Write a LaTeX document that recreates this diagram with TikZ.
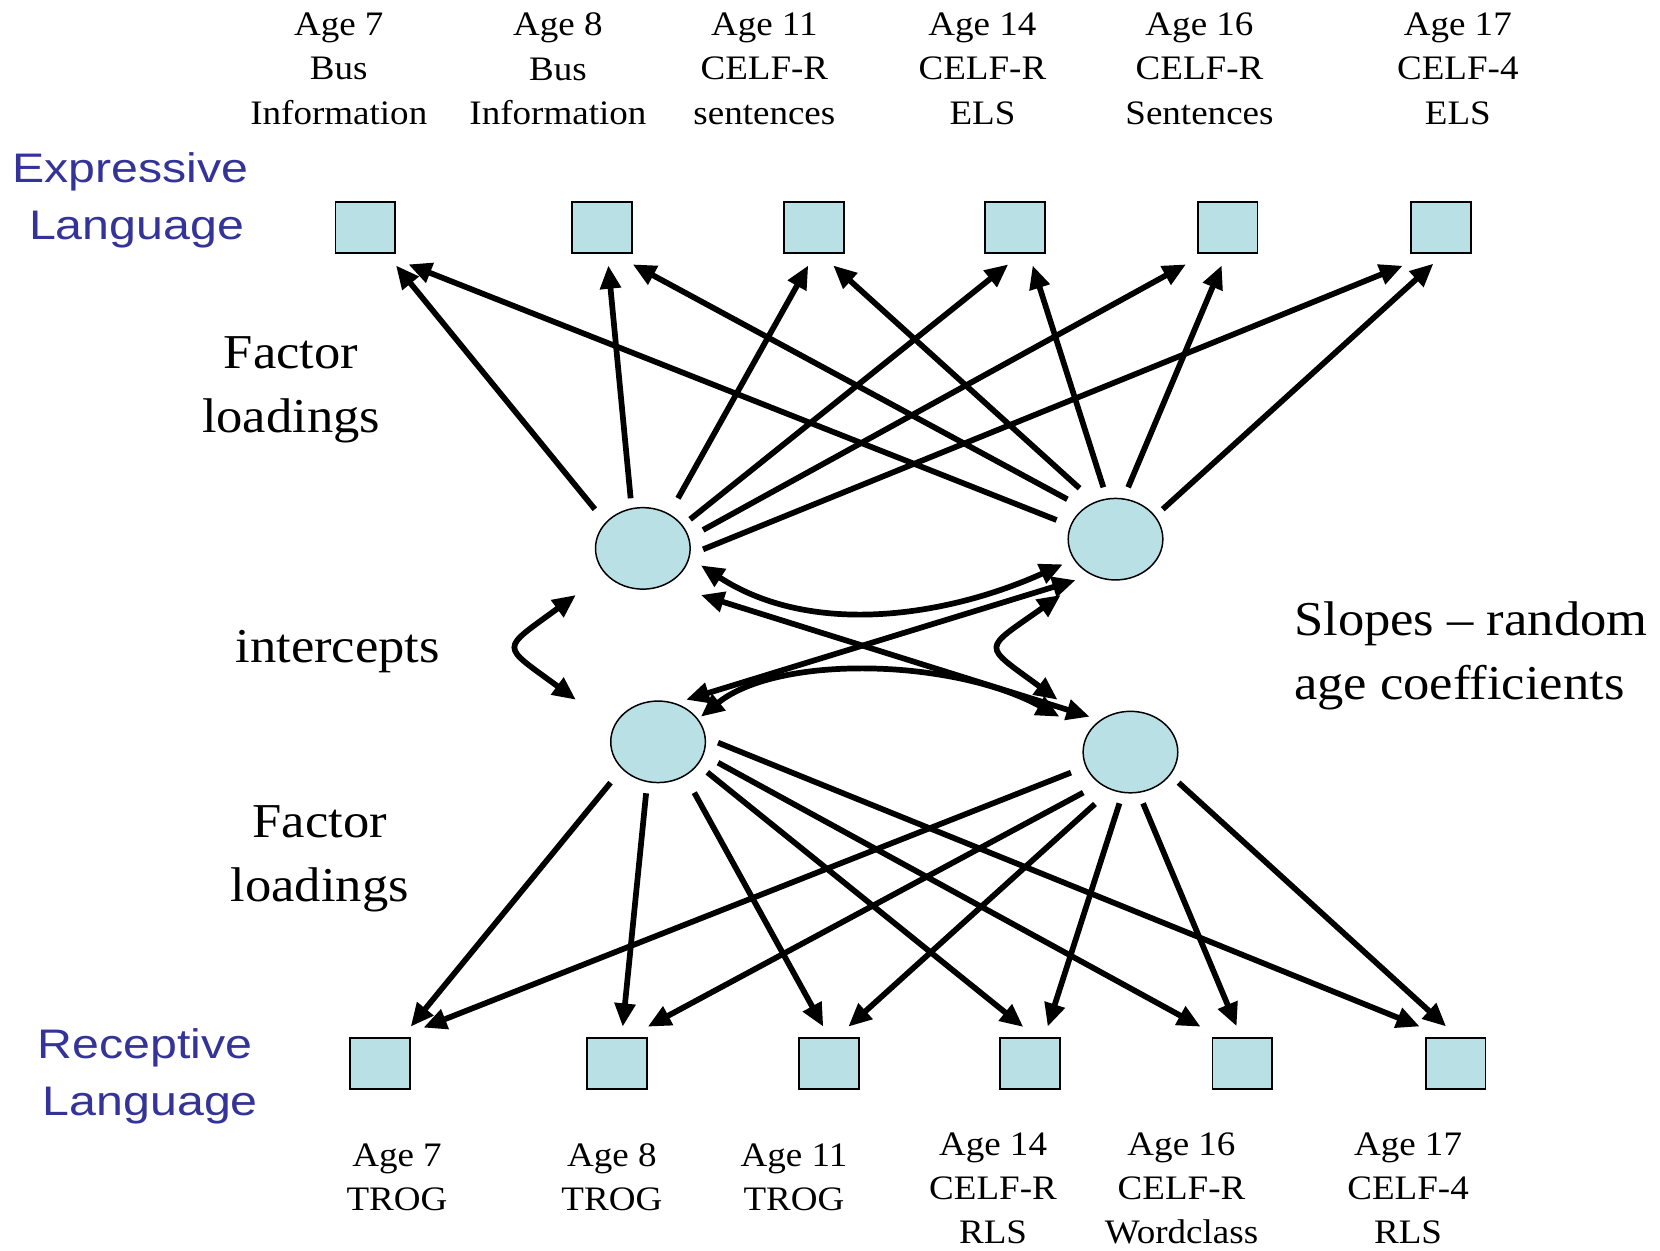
\documentclass[tikz,border=0pt]{standalone}
\usepackage{fontspec}
\setmainfont{Liberation Serif}[FakeStretch=1.08]
\newfontfamily\labelsans{Liberation Sans}[FakeStretch=1.17]
\usetikzlibrary{arrows.meta,calc,shapes.geometric}
\definecolor{boxfill}{RGB}{185,224,228}
\definecolor{langblue}{RGB}{51,51,153}
\begin{document}
\begin{tikzpicture}[x=0.5pt,y=-0.5pt,
  obs/.style={draw=black, line width=0.8pt, fill=boxfill, minimum width=28.2pt, minimum height=24.2pt, inner sep=0pt},
  lat/.style={ellipse, draw=black, line width=0.7pt, fill=boxfill, minimum width=44.7pt, minimum height=38.5pt, inner sep=0pt},
  arr/.style={line width=2.7pt, -{Triangle[length=11pt,width=9.5pt]}},
  dbl/.style={line width=2.7pt, {Triangle[length=11pt,width=9.5pt]}-{Triangle[length=11pt,width=9.5pt]}},
  agelab/.style={align=center, inner sep=0pt, font=\fontsize{16.2pt}{21pt}\selectfont},
  biglab/.style={align=center, inner sep=0pt, font=\fontsize{23pt}{30pt}\selectfont},
  langlab/.style={align=center, inner sep=0pt, text=langblue, font=\labelsans\fontsize{19.5pt}{27pt}\selectfont},
]
\useasboundingbox (0,0) rectangle (1568,1181);

% observed boxes
\node[obs] (T1) at (345,215) {};
\node[obs] (T2) at (568.5,215) {};
\node[obs] (T3) at (769,215) {};
\node[obs] (T4) at (958.7,215) {};
\node[obs] (T5) at (1159.5,215) {};
\node[obs] (T6) at (1361,215) {};
\node[obs] (B1) at (359,1004.6) {};
\node[obs] (B2) at (582.8,1004.6) {};
\node[obs] (B3) at (783.2,1004.6) {};
\node[obs] (B4) at (973,1004.6) {};
\node[obs] (B5) at (1173.6,1004.6) {};
\node[obs] (B6) at (1375,1004.6) {};

% latent ellipses
\node[lat] (E1) at (607.2,518) {};
\node[lat] (E2) at (1053.7,509.3) {};
\node[lat] (E3) at (621.6,700.7) {};
\node[lat] (E4) at (1067.8,710.4) {};

% labels
\node[agelab] (la1) at (320,65) {Age 7\\Bus\\Information};
\node[agelab] (la2) at (527,65) {Age 8\\Bus\\Information};
\node[agelab] (la3) at (722,65) {Age 11\\CELF-R\\sentences};
\node[agelab] (la4) at (928,65) {Age 14\\CELF-R\\ELS};
\node[agelab] (la5) at (1133,65) {Age 16\\CELF-R\\Sentences};
\node[agelab] (la6) at (1377,65) {Age 17\\CELF-4\\ELS};
\node[agelab] (lb1) at (375,1112) {Age 7\\TROG};
\node[agelab] (lb2) at (578,1112) {Age 8\\TROG};
\node[agelab] (lb3) at (750,1112) {Age 11\\TROG};
\node[agelab] (lb4) at (938,1122.5) {Age 14\\CELF-R\\RLS};
\node[agelab] (lb5) at (1116,1122.5) {Age 16\\CELF-R\\Wordclass};
\node[agelab] (lb6) at (1330,1122.5) {Age 17\\CELF-4\\RLS};

\node[langlab] (expr) at (123,189.6) {Expressive\\\hspace*{6pt}Language};
\node[langlab] (recp) at (137,1016.5) {Receptive\\\hspace*{5pt}Language};
\node[biglab] (fl1) at (275,368) {Factor\\loadings};
\node[biglab] (fl2) at (302,811) {Factor\\loadings};
\node[biglab] (icpt) at (319,615) {intercepts};
\node[biglab, anchor=west, align=left] (slp) at (1222,619.3) {Slopes – random\\age coefficients};

% factor loadings, expressive
\draw[arr] ($(E1)+(-45.3,-37)$) -- ($(T1.south)+(29,10.7)$);
\draw[arr] ($(E1)+(-11.5,-47.3)$) -- ($(T2.south)+(6.1,10.7)$);
\draw[arr] ($(E1)+(33.2,-47.3)$) -- ($(T3.south)+(-5.5,10.7)$);
\draw[arr] ($(E1)+(44.7,-27.5)$) -- ($(T4.south)+(-6.3,9.7)$);
\draw[arr] ($(E1)+(56.9,-17.4)$) -- ($(T5.south)+(-39.2,9.7)$);
\draw[arr] ($(E1)+(56.9,0.9)$) -- ($(T6.south)+(-36,11)$);
\draw[arr] ($(E2)+(-55.7,-18.1)$) -- ($(T1.south)+(40.7,9.7)$);
\draw[arr] ($(E2)+(-45.5,-37.7)$) -- ($(T2.south)+(29.1,9.7)$);
\draw[arr] ($(E2)+(-34,-48.1)$) -- ($(T3.south)+(18,10.7)$);
\draw[arr] ($(E2)+(-11.5,-49)$) -- ($(T4.south)+(16.7,10.7)$);
\draw[arr] ($(E2)+(11.9,-49)$) -- ($(T5.south)+(-5.5,10.7)$);
\draw[arr] ($(E2)+(44.6,-28.3)$) -- ($(T6.south)+(-7,9)$);

% factor loadings, receptive
\draw[arr] ($(E3)+(-44.9,38.6)$) -- ($(B1.north)+(28.9,-9.8)$);
\draw[arr] ($(E3)+(-11.3,48.6)$) -- ($(B2.north)+(5.4,-9.8)$);
\draw[arr] ($(E3)+(34.2,48)$) -- ($(B3.north)+(-5.5,-9.8)$);
\draw[arr] ($(E3)+(46.5,28.8)$) -- ($(B4.north)+(-6.4,-9.5)$);
\draw[arr] ($(E3)+(56.6,19.7)$) -- ($(B5.north)+(-39.5,-9.8)$);
\draw[arr] ($(E3)+(56.6,0.8)$) -- ($(B6.north)+(-34,-10)$);
\draw[arr] ($(E4)+(-56.2,19.4)$) -- ($(B1.north)+(40.9,-8.9)$);
\draw[arr] ($(E4)+(-44.6,38.3)$) -- ($(B2.north)+(29,-9.8)$);
\draw[arr] ($(E4)+(-33.5,49)$) -- ($(B3.north)+(18.1,-9.8)$);
\draw[arr] ($(E4)+(-10.4,48.4)$) -- ($(B4.north)+(16.6,-9.8)$);
\draw[arr] ($(E4)+(11.9,48.4)$) -- ($(B5.north)+(-5.5,-10.2)$);
\draw[arr] ($(E4)+(45.5,28.9)$) -- ($(B6.north)+(-9,-10)$);

% covariances
\coordinate (ia) at ($(E1)+(-63.2,44)$);
\coordinate (ib) at ($(E3)+(-77.6,-39.7)$);
\draw[dbl] (ia) .. controls (472,615) and (472,608) .. (ib);
\coordinate (sa) at ($(E2)+(-51.7,52.7)$);
\coordinate (sb) at ($(E4)+(-68.8,-49.4)$);
\draw[dbl] (sa) .. controls (927,615) and (927,608) .. (sb);
\draw[dbl] ($(E1)+(54.8,44)$) -- ($(E4)+(-38.5,-33.4)$);
\draw[dbl] ($(E3)+(26.4,-39.7)$) -- ($(E2)+(-37.7,38.7)$);
\draw[dbl] ($(E1)+(54.8,16)$) .. controls (770,604) and (900,580) .. ($(E2)+(-49.7,23.7)$);
\draw[dbl] ($(E3)+(40.4,-23.7)$) .. controls (735,618) and (900,622) .. ($(E4)+(-67,-33.4)$);
\end{tikzpicture}
\end{document}
